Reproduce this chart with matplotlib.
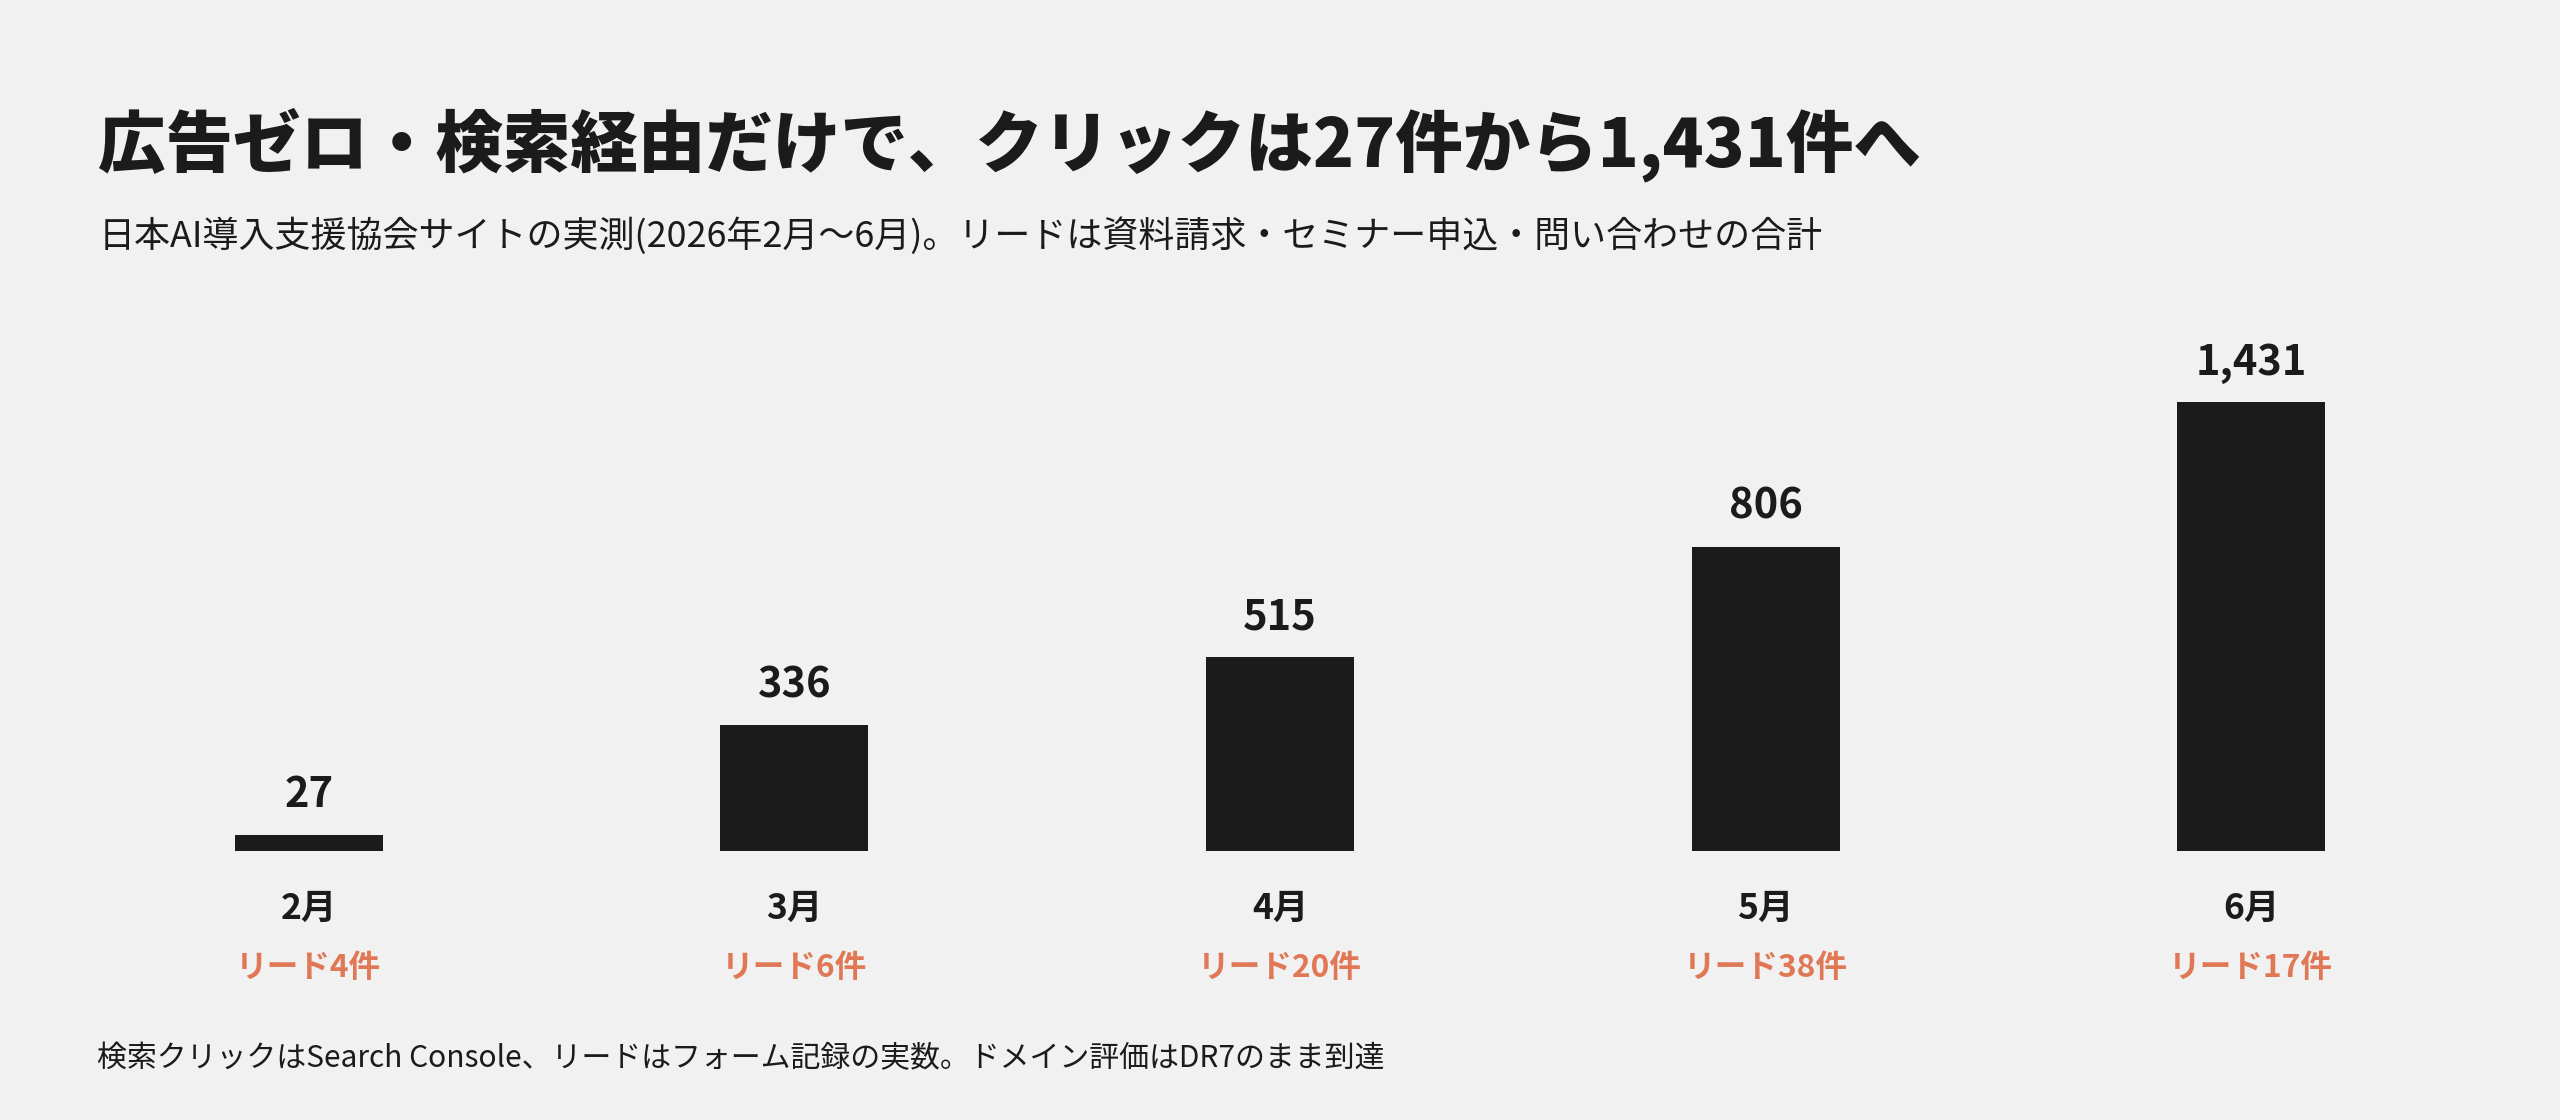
import matplotlib
matplotlib.use("Agg")
import matplotlib.pyplot as plt
from matplotlib.transforms import blended_transform_factory

# ---- data ----
months = ["2月", "3月", "4月", "5月", "6月"]
clicks = [27, 336, 515, 806, 1431]
# relative bar heights as drawn in the reference (% of tallest bar)
bar_height_pct = [3.6, 28.0, 43.2, 67.8, 100.0]
leads = [4, 6, 20, 38, 17]

title = "広告ゼロ・検索経由だけで、クリックは27件から1,431件へ"
subtitle = "日本AI導入支援協会サイトの実測(2026年2月〜6月)。リードは資料請求・セミナー申込・問い合わせの合計"
footnote = "検索クリックはSearch Console、リードはフォーム記録の実数。ドメイン評価はDR7のまま到達"

# ---- style ----
BG = "#f1f1f1"
INK = "#1b1b1b"
ORANGE = "#e07856"
FONT = ["Noto Sans CJK JP", "DejaVu Sans"]
plt.rcParams["font.family"] = FONT

W, H = 2560, 1120
fig = plt.figure(figsize=(W / 100, H / 100), dpi=100, facecolor=BG)

ax = fig.add_axes([66 / W, 1 - 850.7 / H, (2494 - 66) / W, (850.7 - 402.2) / H])
ax.set_facecolor(BG)
x = list(range(len(months)))
ax.bar(x, bar_height_pct, width=0.305, color=INK, edgecolor="none")
ax.set_xlim(-0.5, len(months) - 0.5)
ax.set_ylim(0, 100)
ax.axis("off")

for xi, h, v in zip(x, bar_height_pct, clicks):
    ax.annotate(f"{v:,}", (xi, h), xytext=(0, 20), textcoords="offset points",
                ha="center", va="baseline", fontsize=30, fontweight="bold", color=INK)

tr = blended_transform_factory(ax.transData, fig.transFigure)
for xi, m, l in zip(x, months, leads):
    ax.text(xi, 1 - 918.5 / H, m, transform=tr, ha="center", va="baseline",
            fontsize=25.5, fontweight="bold", color=INK)
    ax.text(xi, 1 - 977.5 / H, f"リード{l}件", transform=tr, ha="center", va="baseline",
            fontsize=22.8, fontweight="bold", color=ORANGE)

fig.text(98 / W, 1 - 166 / H, title, ha="left", va="baseline",
         fontsize=48.6, fontweight="black", color=INK)
fig.text(99 / W, 1 - 246.7 / H, subtitle, ha="left", va="baseline",
         fontsize=25.9, color=INK)
fig.text(97 / W, 1 - 1066.7 / H, footnote, ha="left", va="baseline",
         fontsize=21.55, color=INK)

fig.savefig("out.png", dpi=100, facecolor=BG)
